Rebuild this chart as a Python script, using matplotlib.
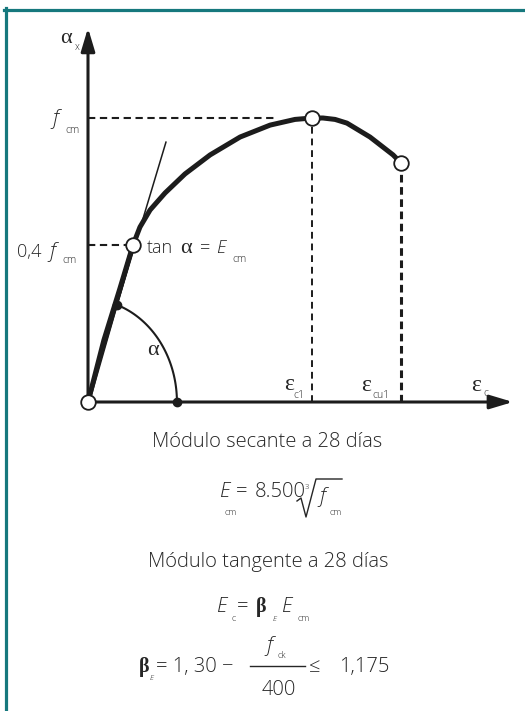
import numpy as np
import matplotlib.pyplot as plt
from matplotlib.lines import Line2D

W, H = 525, 711

# stress-strain curve, strain in units of eps_c1, stress in units of f_cm
eps_curve = [0.0, 0.071, 0.143, 0.201, 0.232, 0.277, 0.344, 0.433, 0.545,
             0.679, 0.813, 0.924, 1.0, 1.049, 1.103, 1.156, 1.259, 1.362, 1.397]
sig_curve = [0.0, 0.218, 0.401, 0.553, 0.616, 0.676, 0.736, 0.803, 0.870,
             0.933, 0.975, 0.995, 1.0, 1.0, 0.995, 0.982, 0.933, 0.870, 0.842]

eps_c1, f_cm = 1.0, 1.0
eps_cu1, sig_cu1 = 1.397, 0.842
eps_sec, sig_sec = 0.201, 0.553          # point labelled 0,4 f_cm
eps_tan, sig_tan = 0.348, 0.915          # far end of the tangent line
eps_arc, sig_arc = 0.129, 0.342          # dot where the angle arc meets the line
eps_arc0 = 0.397                         # dot where the arc meets the strain axis
eps_axis, sig_axis = 1.897, 1.317        # arrow tips

# pixel placement of the origin and unit lengths
X0, Y0, SX, SY = 88, 402, 224, 284

INK = "#1c1c1c"
TXT = "#262626"
TEAL = "#16787d"
SANS = ["Open Sans", "DejaVu Sans"]
SERIF = ["Liberation Serif", "DejaVu Serif"]
BODY = 14.5

fig = plt.figure(figsize=(W / 100, H / 100), dpi=100)
ax = fig.add_axes([0, 0, 1, 1])
ax.set_xlim(-X0 / SX, (W - X0) / SX)
ax.set_ylim(-(H - Y0) / SY, Y0 / SY)
ax.axis("off")

# frame lines on top and left
fig.add_artist(Line2D([4 / W, 1], [1 - 9.5 / H] * 2, lw=2.3, color=TEAL,
                      transform=fig.transFigure))
fig.add_artist(Line2D([5.5 / W] * 2, [0, 1 - 8 / H], lw=2.3, color=TEAL,
                      transform=fig.transFigure))

# axes with arrows
arrow = dict(arrowstyle="-|>,head_length=1.4,head_width=0.42", lw=2.2,
             color=INK, shrinkA=0, shrinkB=0, mutation_scale=10)
ax.annotate("", xy=(0, sig_axis), xytext=(0, 0), arrowprops=arrow)
ax.annotate("", xy=(eps_axis, 0), xytext=(0, 0), arrowprops=arrow)

# dashed guides
ax.plot([0, 0.85], [f_cm, f_cm], ls=(0, (3.5, 2.2)), lw=1.5, color=INK)
ax.plot([0, eps_sec], [sig_sec, sig_sec], ls=(0, (3.5, 2.2)), lw=1.5, color=INK)
ax.plot([eps_c1, eps_c1], [0, f_cm], ls=(0, (3.5, 2.5)), lw=1.4, color=INK)
ax.plot([eps_cu1, eps_cu1], [0, sig_cu1], ls=(0, (2.5, 1.5)), lw=2.2, color=INK)

# tangent and secant
ax.plot([0, eps_tan], [0, sig_tan], lw=1.1, color=INK)
ax.plot([0, eps_sec], [0, sig_sec], lw=3.0, color=INK, solid_capstyle="round")
ax.plot(eps_curve, sig_curve, lw=3.6, color=INK, solid_capstyle="round",
        solid_joinstyle="round")

# angle arc
t_end = np.arccos(eps_arc / eps_arc0)
b = sig_arc / np.sin(t_end)
t = np.linspace(0, t_end, 60)
ax.plot(eps_arc0 * np.cos(t), b * np.sin(t), lw=1.5, color=INK)
ax.plot([eps_arc, eps_arc0], [sig_arc, 0], "o", ms=6, color=INK)

# open circles
ax.plot([0, eps_sec, eps_c1, eps_cu1], [0, sig_sec, f_cm, sig_cu1], "o",
        ms=10.5, mfc="white", mec=INK, mew=1.3, zorder=5)


def put(x, y, s, size, family=SANS, ha="left", color=TXT, weight="light", **kw):
    fig.text(x / W, 1 - y / H, s, fontsize=size, family=family, ha=ha,
             va="baseline", color=color, weight=weight, **kw)


# axis labels
put(60, 43, "α", 16, SERIF, weight="normal")
put(75, 50, "x", 7)
put(52, 124, "f", 15, style="italic")
put(65, 133, "cm", 7.5)
put(17, 257, "0,4", 13)
put(49, 257, "f", 15, style="italic")
put(62, 263, "cm", 7.5)
put(147, 253, "tan", 13)
put(180, 253, "α", 16, SERIF, weight="normal")
put(199, 253, "=", 13)
put(216, 253, "E", 13, style="italic")
put(232, 262, "cm", 7.5)
put(147, 355, "α", 16, SERIF, weight="normal")
put(284, 390, "ε", 17, SERIF, weight="normal")
put(293, 398, "c1", 7.5)
put(361, 391, "ε", 17, SERIF, weight="normal")
put(372, 398, "cu1", 7.5)
put(471, 391, "ε", 17, SERIF, weight="normal")
put(483, 396, "c", 7.5)

# formulas under the chart
put(267, 447, "Módulo secante a 28 días", BODY, ha="center")
put(220, 497, "E", BODY, style="italic")
put(224, 515, "cm", 6.5)
put(236, 497, "=", BODY)
put(255, 497, "8.500", BODY)
rad = [(297, 501), (301, 498), (306, 517), (316, 479), (342, 479)]
fig.add_artist(Line2D([p[0] / W for p in rad], [1 - p[1] / H for p in rad],
                      lw=1.0, color=TXT, transform=fig.transFigure))
put(305, 489, "3", 5.5)
put(319, 502, "f", 15, style="italic")
put(329, 515, "cm", 6.5)

put(268, 567, "Módulo tangente a 28 días", BODY, ha="center")
put(217, 612, "E", BODY, style="italic")
put(231, 621, "c", 6.5)
put(237, 612, "=", BODY)
put(256, 612, "β", 14.5, SERIF, weight="bold")
put(273, 621, "E", 5.5, style="italic")
put(282, 612, "E", BODY, style="italic")
put(298, 621, "cm", 6.5)

put(139, 672, "β", 14.5, SERIF, weight="bold")
put(150, 680, "E", 5.5, style="italic")
put(156, 672, "= 1, 30 −", BODY)
put(266, 651, "f", 15, style="italic")
put(278, 658, "ck", 6.5)
fig.add_artist(Line2D([250 / W, 305 / W], [1 - 666 / H] * 2, lw=1.0,
                      color=TXT, transform=fig.transFigure))
put(279, 695, "400", BODY, ha="center")
put(309, 672, "≤", BODY)
put(339, 672, "1,175", BODY)

fig.savefig("out.png", dpi=100, facecolor="white")
